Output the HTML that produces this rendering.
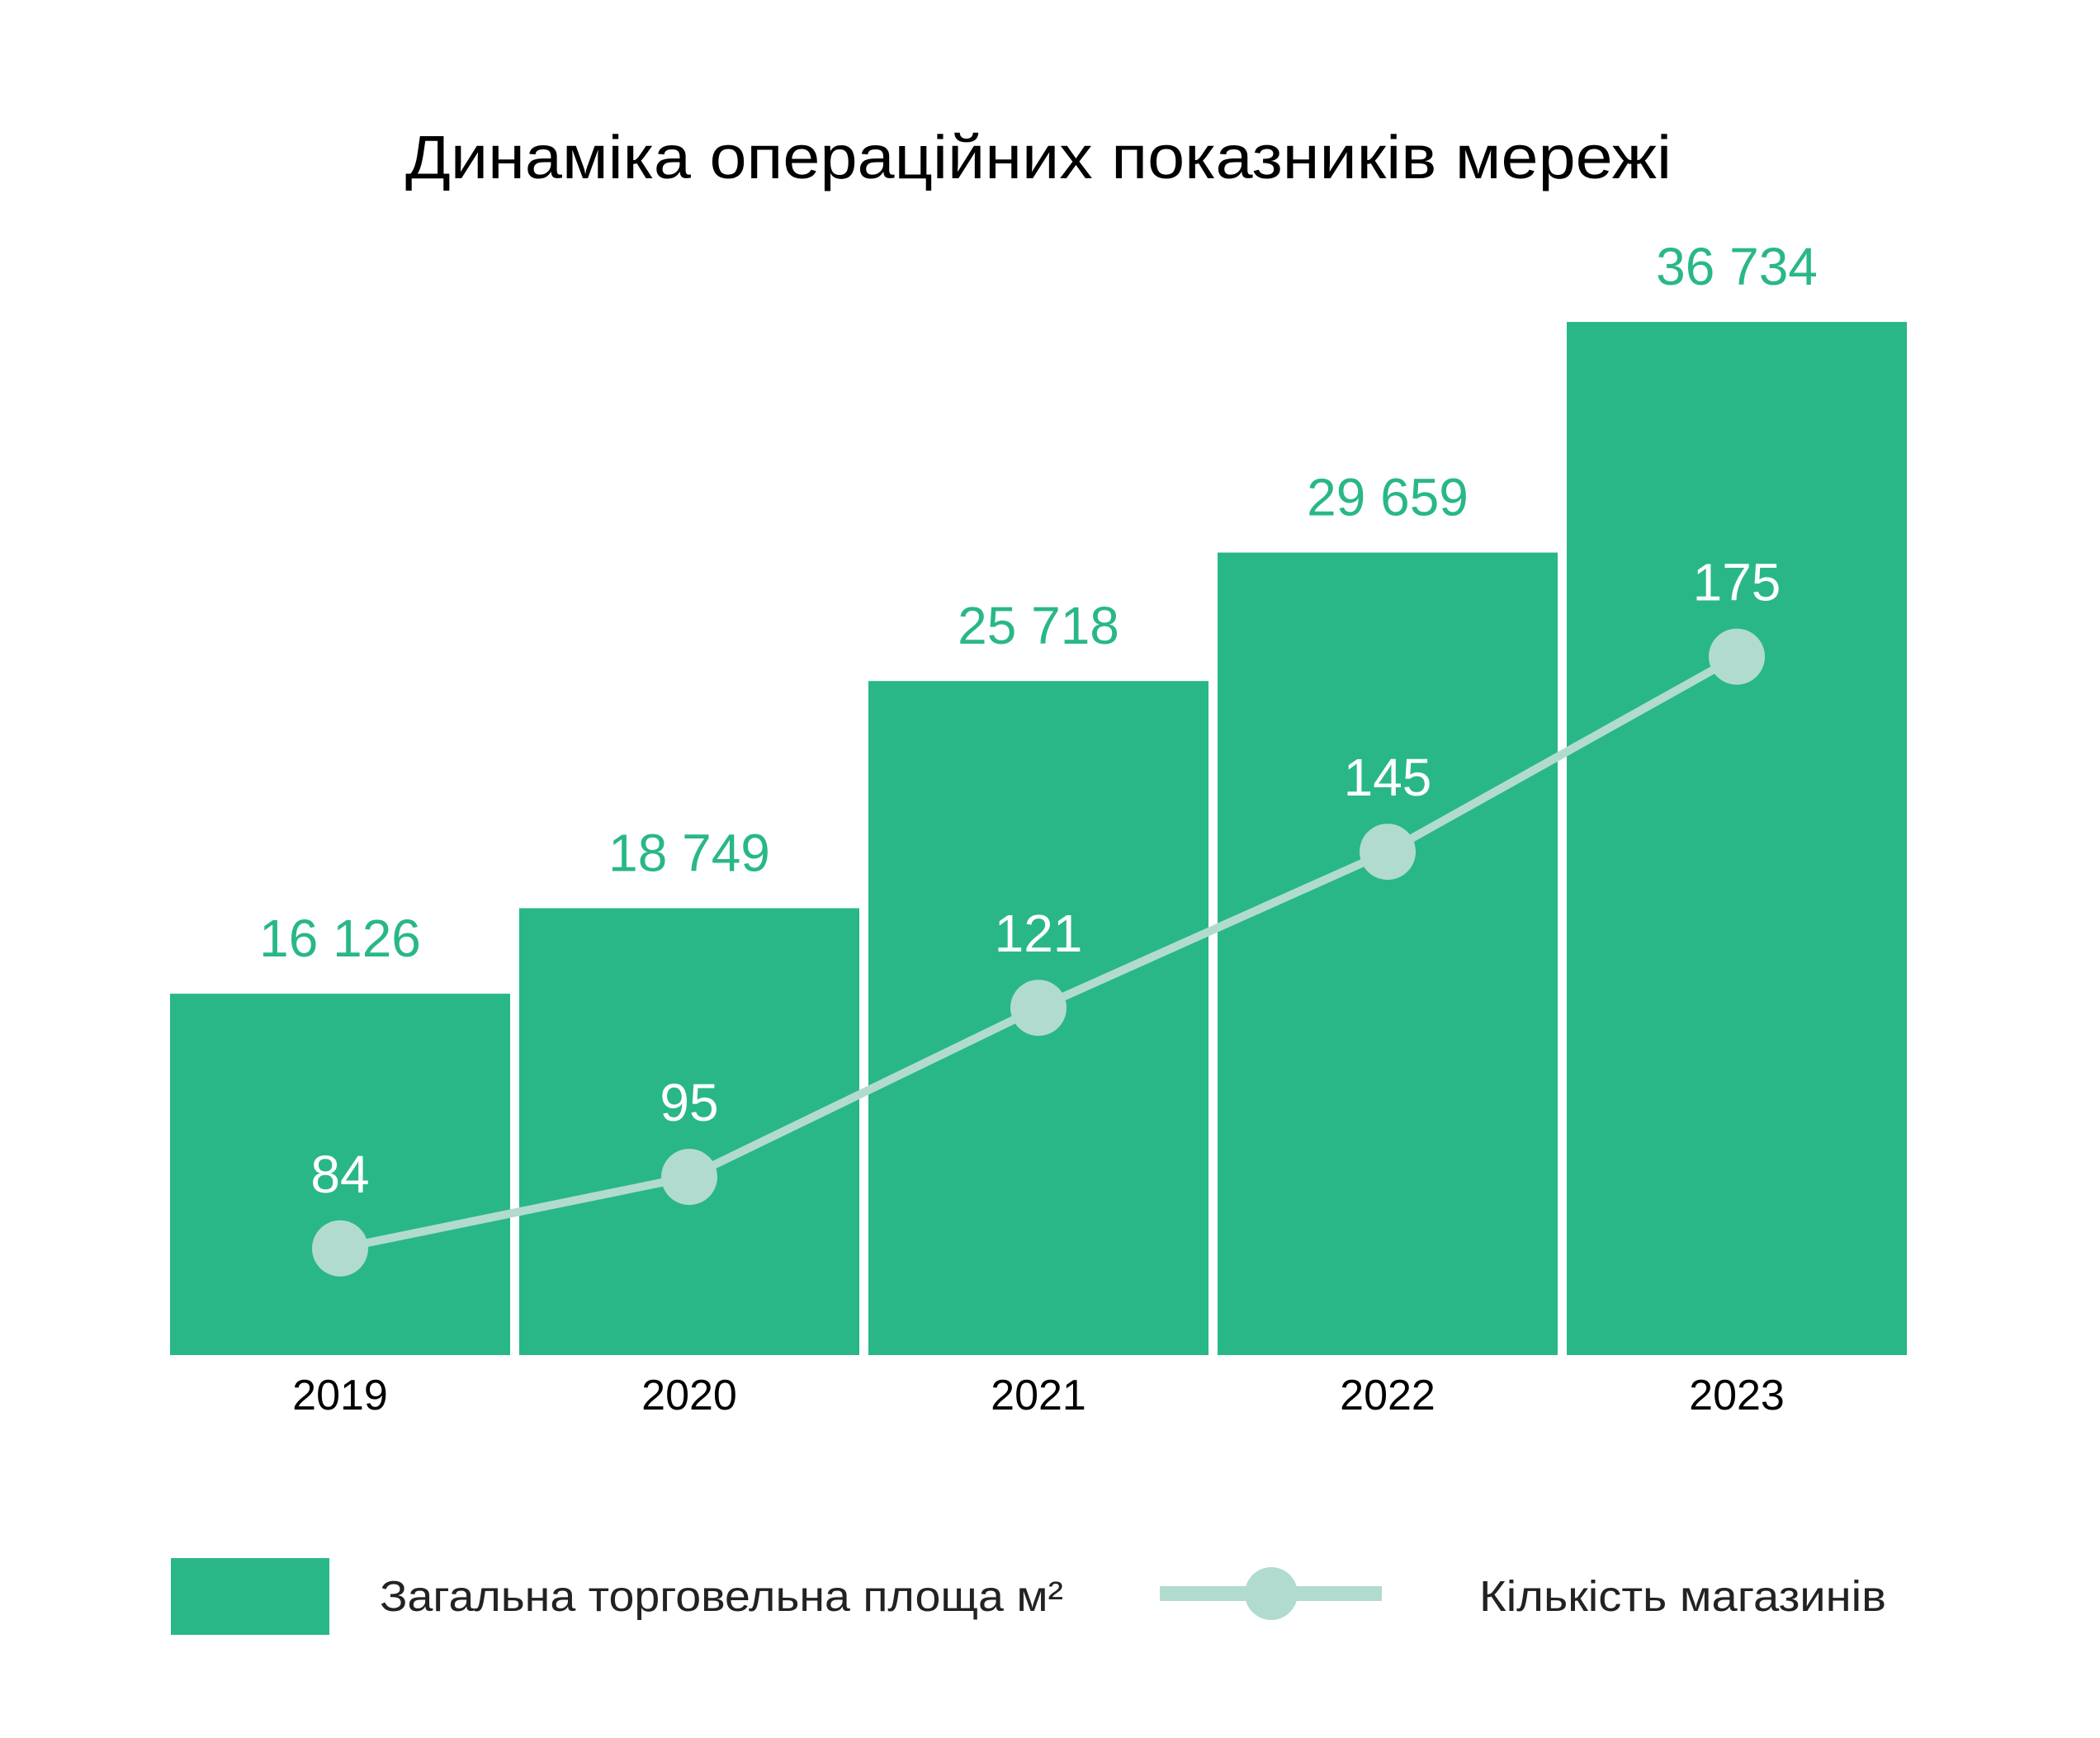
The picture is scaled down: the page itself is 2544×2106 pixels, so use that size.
<!DOCTYPE html>
<html><head><meta charset="utf-8"><style>
html,body{margin:0;padding:0;background:#fff;}
svg{display:block;font-family:"Liberation Sans","DejaVu Sans",sans-serif;}
</style></head><body>
<svg id="chart" width="2544" height="2106" viewBox="0 0 2544 2106" xmlns="http://www.w3.org/2000/svg">
<rect width="2544" height="2106" fill="#fff"/>
<text x="491" y="216" font-size="74" fill="#000" textLength="1534" lengthAdjust="spacingAndGlyphs">Динаміка операційних показників мережі</text>
<g id="bars"></g><g id="line"></g><g id="labels"></g>
<g>
<rect x="207" y="1888" width="192" height="93" fill="#29b788"/>
<text x="460" y="1952" font-size="52" fill="#222" textLength="828" lengthAdjust="spacingAndGlyphs">Загальна торговельна площа м²</text>
<line x1="1405" y1="1931" x2="1674" y2="1931" stroke="#b2dbd0" stroke-width="18"/>
<circle cx="1540" cy="1931" r="32" fill="#b2dbd0"/>
<text x="1792" y="1952" font-size="52" fill="#222" textLength="493" lengthAdjust="spacingAndGlyphs">Кількість магазинів</text>
</g>
</svg>
<script>
const years = ["2019","2020","2021","2022","2023"];
const areaValues = [16126, 18749, 25718, 29659, 36734];
const areaLabels = ["16 126","18 749","25 718","29 659","36 734"];
const storeValues = [84, 95, 121, 145, 175];

const NS="http://www.w3.org/2000/svg";
const baseY=1642, left=206, step=423, barW=412;
function xBand(i){return left+i*step;}
function xCenter(i){return xBand(i)+barW/2;}
function yArea(v){return baseY-(v-5040)*0.0395;}
function yStores(v){return baseY-(v-67.6)*7.88;}
function mk(tag,attrs,parent){const e=document.createElementNS(NS,tag);for(const k in attrs)e.setAttribute(k,attrs[k]);parent.appendChild(e);return e;}
const gb=document.getElementById('bars'),gl=document.getElementById('line'),gt=document.getElementById('labels');
years.forEach((y,i)=>{
  const top=yArea(areaValues[i]);
  const r=mk('rect',{x:xBand(i),y:top,width:barW,height:baseY-top,fill:'#29b788'},gb);
  
  
  const t=mk('text',{x:xCenter(i),y:top-45,'font-size':64,fill:'#29b788','text-anchor':'middle'},gt);
  t.textContent=areaLabels[i];
  
  
  const yl=mk('text',{x:xCenter(i),y:1708,'font-size':52,fill:'#000','text-anchor':'middle'},gt);
  yl.textContent=y;
  
  
});
const pts=storeValues.map((v,i)=>xCenter(i)+','+yStores(v)).join(' ');
const pl=mk('polyline',{points:pts,fill:'none',stroke:'#b2dbd0','stroke-width':10},gl);


storeValues.forEach((v,i)=>{
  const c=mk('circle',{cx:xCenter(i),cy:yStores(v),r:34,fill:'#b2dbd0'},gl);
  
  
  const t=mk('text',{x:xCenter(i),y:yStores(v)-68,'font-size':64,fill:'#fff','text-anchor':'middle'},gt);
  t.textContent=v;
  
  
});
</script>
</body></html>
